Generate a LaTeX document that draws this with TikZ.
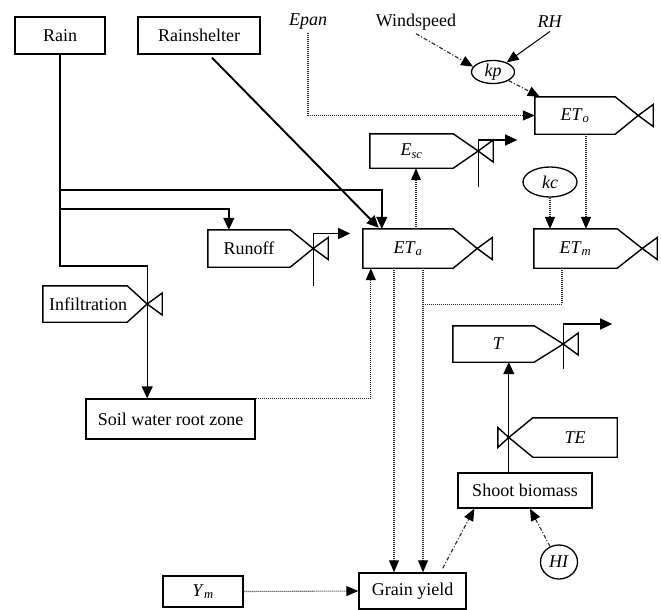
\documentclass[tikz,border=0pt]{standalone}
\usepackage{fontspec}
\setmainfont{Liberation Serif}
\usetikzlibrary{arrows.meta, calc, shapes.geometric}
\tikzset{
  boxline/.style={draw=black, line width=1.4pt},
  plainbox/.style={rectangle, draw=black, line width=1.4pt, inner sep=0pt},
  flowbox/.style={rectangle, inner sep=0pt},
  auxvar/.style={ellipse, draw=black, line width=1.3pt, inner sep=0pt},
  flowline/.style={draw=black, line width=1.4pt, -{Triangle[length=12pt,width=11pt]}},
  thinline/.style={draw=black, line width=1pt, -{Triangle[length=12pt,width=10pt]}},
  infoline/.style={draw=black!85, line width=1.1pt, dash pattern=on 1pt off 1pt, -{Triangle[length=12pt,width=10pt,black]}},
  dashline/.style={draw=black!85, line width=1.1pt, dash pattern=on 4pt off 2pt on 1pt off 2pt, -{Triangle[length=12pt,width=10pt,black]}}
}
% valve shapes: pentagon round a node, with the half valve at its tip
\newcommand{\valveright}[2]{%
  \draw[boxline] (#1.north west) -- (#1.north east) -- ($(#1.east)+(#2,0)$) coordinate (#1-tip)
    -- (#1.south east) -- (#1.south west) -- cycle;
  \draw[boxline] (#1-tip) -- ++(15,-11) -- ++(0,22) -- cycle;
}
\newcommand{\valveleft}[2]{%
  \draw[boxline] (#1.north east) -- (#1.north west) -- ($(#1.west)+(-#2,0)$) coordinate (#1-tip)
    -- (#1.south west) -- (#1.south east) -- cycle;
  \draw[boxline] (#1-tip) -- ++(-11,-10) -- ++(0,20) -- cycle;
}
\newcommand{\outflow}[4]{%
  \draw[flowline, line width=1.3pt] ($(#1-tip)+(0,#3)$) -- ($(#1-tip)+(0,-#2)$) -- ++(#4,0) coordinate (#1-end);
}

\begin{document}
\begin{tikzpicture}[x=1pt, y=-1pt, font=\fontsize{18}{21}\selectfont]
\useasboundingbox (0,0) rectangle (661,610);

\node[plainbox, minimum width=90pt, minimum height=37pt] (rain) at (60,35.5) {Rain};
\node[plainbox, minimum width=122pt, minimum height=37pt] (shelter) at (199,35.5) {Rainshelter};
\node (epan) at (308,22) {\textit{Epan}};
\node (wind) at (416,22) {Windspeed};
\node (rh) at (550,22) {\textit{RH}};
\node[auxvar, minimum width=43pt, minimum height=21pt] (kp) at (493,72) {\textit{kp}};
\node[auxvar, minimum width=54pt, minimum height=30pt] (kc) at (550,182) {\textit{kc}};
\node[auxvar, minimum width=37pt, minimum height=34pt] (hi) at (559,562) {\textit{HI}};

\node[flowbox, minimum width=80pt, minimum height=37pt] (eto) at (575,115.5) {\textit{ET}\textsubscript{\textit{o}}};
\valveright{eto}{23}
\node[flowbox, minimum width=83pt, minimum height=34pt] (esc) at (411.5,151) {\textit{E}\textsubscript{\textit{sc}}};
\valveright{esc}{25}
\node[flowbox, minimum width=90pt, minimum height=39pt] (eta) at (408,248.5) {\textit{ET}\textsubscript{\textit{a}}};
\valveright{eta}{24}
\node[flowbox, minimum width=83pt, minimum height=39pt] (etm) at (575.5,248.5) {\textit{ET}\textsubscript{\textit{m}}};
\valveright{etm}{25}
\node[flowbox, minimum width=82pt, minimum height=37pt] (runoff) at (249,248.5) {Runoff};
\valveright{runoff}{23}
\node[flowbox, minimum width=84pt, minimum height=36pt] (infil) at (85,304) {\hspace*{6pt}Infiltration};
\valveright{infil}{20}
\node[flowbox, minimum width=81pt, minimum height=36pt] (tpool) at (493.5,344) {\hspace*{10pt}\textit{T}};
\valveright{tpool}{29}
\node[flowbox, minimum width=84pt, minimum height=39pt] (te) at (575,437.5) {\textit{TE}};
\valveleft{te}{24}

\node[plainbox, minimum width=169pt, minimum height=40pt] (soil) at (170.5,419) {Soil water root zone};
\node[plainbox, minimum width=134pt, minimum height=35pt] (shoot) at (525,490.5) {Shoot biomass};
\node[plainbox, minimum width=80pt, minimum height=31pt] (ym) at (203,591.5) {\textit{Y}\textsubscript{\textit{m}}};
\node[plainbox, minimum width=107pt, minimum height=36pt] (grain) at (412.5,591) {Grain yield};

\outflow{runoff}{15}{37}{37}
\outflow{esc}{11}{36}{39}
\outflow{tpool}{20}{25}{49}

\coordinate (split1) at (60,190);
\coordinate (split2) at (60,209);
\draw[flowline, -] (rain.south) |- ($(infil-tip)+(0,-38)$) -- (infil-tip);
\draw[flowline] (infil-tip) -- (soil.north -| infil-tip);
\draw[flowline] (split1) -| ($(eta.north west)+(19,0)$);
\draw[flowline] (split2) -| ($(runoff.north west)+(21,0)$);
\draw[flowline, line width=1.9pt] ($(shelter.south)+(13,3)$) -- ($(eta.north west)+(16,-1)$);

\draw[infoline] (epan.south) |- (eto.west);
\draw[dashline] (wind.south) -- (kp.165);
\draw[thinline] (rh.south) -- (kp.35);
\draw[dashline] (kp.south east) -- ($(eto.north west)+(5,0)$);
\draw[infoline] ($(eto.south)+(11,0)$) coordinate (eto-down) -- (eto-down |- etm.north);
\draw[infoline] (kc.south) -- (kc.south |- etm.north);
\draw[infoline] ($(eta.north)+(8,0)$) coordinate (eta-up) -- (eta-up |- esc.south);
\draw[infoline] ($(eta.south)+(-14,0)$) coordinate (eta-left) -- (eta-left |- grain.north);
\draw[infoline] ($(eta.south)+(15,0)$) coordinate (eta-right) -- (eta-right |- grain.north);
\draw[infoline, -] ($(etm.south)+(-13.5,0)$) |- ($(eta-right)+(0,36)$);
\draw[infoline] (soil.north east) -| ($(eta.south west)+(8,0)$);
\draw[infoline] (ym.east) -- (grain.west);
\draw[dashline] ($(grain.north east)+(-24,-4)$) -- ($(shoot.south west)+(17,0)$);
\draw[dashline] (hi.120) -- ($(shoot.south)+(5,0)$);
\draw[flowline, line width=1.3pt] (te-tip |- shoot.north) -- (te-tip |- tpool.south);
\end{tikzpicture}
\end{document}
